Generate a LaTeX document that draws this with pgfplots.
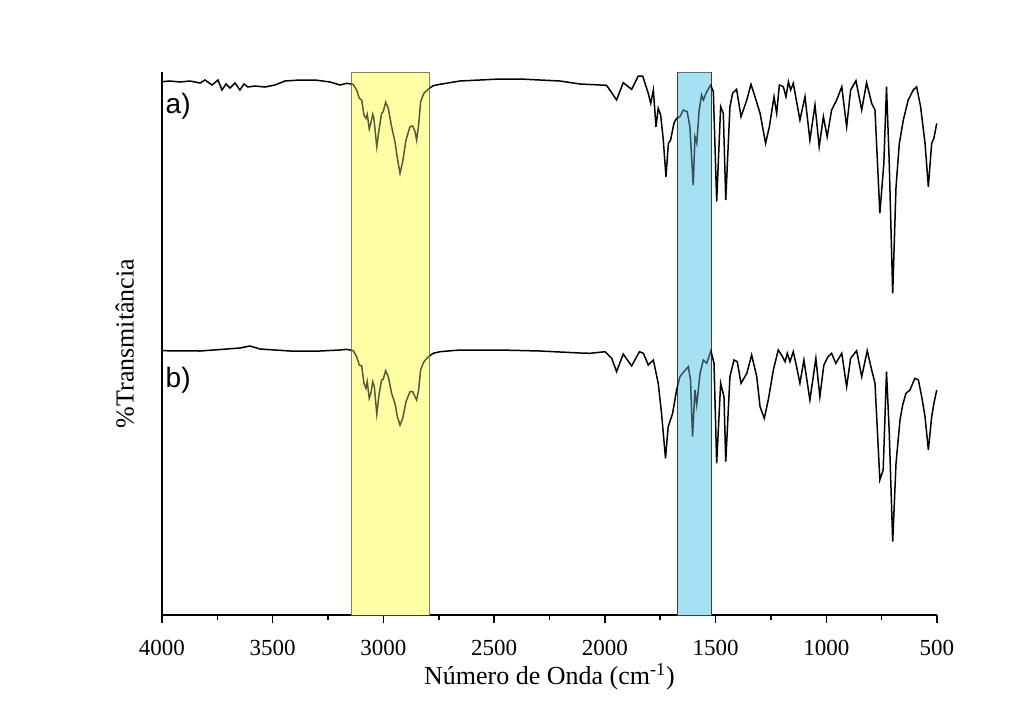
\documentclass[border=0pt]{standalone}
\usepackage{fontspec}
\setmainfont{Liberation Serif}
\newfontfamily\arial{Liberation Sans}
\usepackage{pgfplots}
\pgfplotsset{compat=1.18}
\definecolor{BoxYellow}{RGB}{255,255,165}
\definecolor{BoxBlue}{RGB}{166,224,244}
\definecolor{BoxEdge}{RGB}{60,60,60}

\begin{document}
\begin{tikzpicture}
\begin{axis}[
  name=ax,
  scale only axis,
  width=387.5pt, height=271.5pt,
  x dir=reverse,
  xmin=500, xmax=4000, ymin=0, ymax=543,
  axis x line*=bottom, axis y line*=left,
  axis line style={-, line width=0.75pt},
  xtick={500,1000,...,4000},
  minor x tick num=1,
  ytick=\empty,
  tick align=outside,
  major tick length=4pt, minor tick length=2.5pt,
  tick style={line width=0.75pt, black},
  xticklabel style={font=\fontsize{11.5}{13}\selectfont, yshift=-5pt},
  /pgf/number format/assume math mode=true,
  /pgf/number format/1000 sep={},
  xlabel={Número de Onda (cm\textsuperscript{-1})},
  ylabel={\%Transmitância},
  label style={font=\fontsize{13}{15}\selectfont},
  xlabel style={yshift=3pt},
  ylabel style={yshift=6.5pt},
  clip=false,
]

% highlighted bands
\addplot[draw=BoxEdge, line width=0.5pt, fill=BoxYellow]
  coordinates {(3146,543) (2790,543)} \closedcycle;
\addplot[draw=BoxEdge, line width=0.5pt, fill=BoxBlue]
  coordinates {(1670,543) (1520,543)} \closedcycle;

% spectrum a)
\addplot[black, line width=0.75pt] coordinates {
(4000,533.3) (3964,534) (3919,533) (3874,534) (3828,532) (3806,535) (3774,530)
(3747,535) (3729,525) (3711,531) (3693,527) (3670,532) (3648,525) (3630,531)
(3612,528) (3580,529) (3535,528) (3490,530) (3445,534) (3377,535) (3309,535)
(3241,533) (3196,530) (3166,531.7) (3137,530.7) (3121,525) (3109,516.7)
(3098,515) (3088,500) (3079,496.7) (3073,500.7) (3064,486) (3057,491.7)
(3048,500.7) (3043,496.7) (3030,468.3) (3019,486.7) (3008,501.7) (3001,503.3)
(2990,512.7) (2978,506.7) (2963,488.3) (2948,473.3) (2937,456.7) (2925,441.7)
(2913,453.3) (2898,475) (2880,488.3) (2868,489) (2857,483.3) (2850,475)
(2841,490) (2832,513.3) (2817,521.7) (2797,526) (2775,529.3) (2745,530.7)
(2654,534) (2564,535) (2474,536) (2383,536) (2293,535) (2203,534) (2112,531)
(1992,529.7) (1947,515) (1917,532.3) (1879,525.7) (1849,539) (1829,539)
(1804,521.7) (1793,511.7) (1781,525) (1769,488.3) (1759,506.7) (1748,500)
(1736,475) (1724,438.3) (1713,471.7) (1703,475) (1688,491.7) (1676,496.7)
(1661,498.3) (1646,505) (1628,503.3) (1616,488.3) (1601,430) (1593,478.3)
(1585,471.7) (1574,505) (1563,520) (1555,515) (1540,523.3) (1522,530)
(1510,523.3) (1495,413.3) (1477,508.3) (1465,501.7) (1454,415) (1435,508.3)
(1423,521.7) (1405,525.7) (1385,498.3) (1359,515) (1340,530.7) (1322,518.3)
(1299,501.7) (1274,471.7) (1257,488.3) (1236,518.3) (1224,501.7) (1212,530)
(1194,528.3) (1182,518.3) (1171,533.3) (1161,525) (1149,531.7) (1119,495)
(1096,518.3) (1074,475) (1051,510) (1032,468.3) (1013,498.3) (996,478.3)
(976,505) (953,515) (930,528.3) (908,488.3) (890,525) (866,534.3) (840,505)
(818,532.3) (795,511.7) (780,505) (758,401.7) (740,451.7) (728,528.3)
(716,455) (700,321.7) (685,428.3) (670,471.7) (652,495) (630,515) (607,525)
(592,528.3) (574,508.3) (554,471.7) (539,428.3) (524,471.7) (514,476.7)
(501,491.7)
};

% spectrum b)
\addplot[black, line width=0.75pt] coordinates {
(4000,264.3) (3828,264) (3648,267) (3603,269) (3557,266) (3422,264) (3286,264)
(3196,265) (3166,265.7) (3136,264.3) (3121,258.3) (3109,250) (3098,249)
(3088,231.7) (3079,226.7) (3073,233.3) (3064,216.7) (3057,221.7) (3048,233.3)
(3041,228.3) (3030,201) (3019,221.7) (3008,235) (3001,235.7) (2990,244.3)
(2978,238.3) (2963,221.7) (2948,211.7) (2937,198.3) (2925,190) (2913,196.7)
(2898,213.3) (2880,223.3) (2868,223.3) (2857,218.3) (2850,215) (2841,225)
(2832,245) (2817,253.3) (2797,258.3) (2775,261.7) (2745,263.3) (2654,265)
(2474,265) (2293,264) (2112,262) (2067,261.7) (1999,263.3) (1969,256.7)
(1947,243.3) (1917,261) (1879,249) (1844,263.3) (1826,261.7) (1804,250)
(1781,255) (1759,231.7) (1744,201.7) (1726,156.7) (1714,188.3) (1694,201.7)
(1676,225) (1661,238.3) (1643,243.3) (1623,248.3) (1613,235) (1604,178.3)
(1593,225) (1585,210) (1570,241.7) (1555,255) (1540,251.7) (1521,264.3)
(1507,251.7) (1495,151.7) (1477,231.7) (1462,218.3) (1454,153.3) (1435,238.3)
(1417,255) (1402,253.3) (1385,231.7) (1359,241.7) (1337,260) (1314,238.3)
(1299,208.3) (1280,196.7) (1262,215) (1239,245) (1217,265) (1202,260)
(1186,253.3) (1176,261.7) (1164,253.3) (1149,263.3) (1134,248.3) (1119,231.7)
(1101,255) (1074,215) (1047,256.7) (1029,218.3) (1011,250) (992,258.3)
(976,261.7) (957,251.7) (930,261.7) (908,228.3) (890,256.7) (863,264.3)
(840,238.3) (815,264.3) (795,245) (780,231.7) (758,135) (743,145)
(728,243.3) (716,185) (700,73.3) (685,151.7) (667,195) (655,210) (640,221.7)
(622,225) (600,236.7) (584,235) (569,218.3) (554,198.3) (539,165)
(524,198.3) (514,211.7) (501,225)
};

% translucent overlay, tints the curves inside the bands
\addplot[draw=none, fill=BoxYellow, fill opacity=0.35]
  coordinates {(3146,543) (2790,543)} \closedcycle;
\addplot[draw=none, fill=BoxBlue, fill opacity=0.35]
  coordinates {(1670,543) (1520,543)} \closedcycle;

\node[anchor=west, font=\arial\fontsize{14}{16}\selectfont, inner sep=0pt]
  at (axis cs:3985,509) {a)};
\node[anchor=west, font=\arial\fontsize{14}{16}\selectfont, inner sep=0pt]
  at (axis cs:3985,235) {b)};
\end{axis}
\path[use as bounding box]
  ([xshift=-81pt,yshift=-55pt]ax.south west)
  rectangle ([xshift=42.5pt,yshift=36pt]ax.north east);
\end{tikzpicture}
\end{document}
